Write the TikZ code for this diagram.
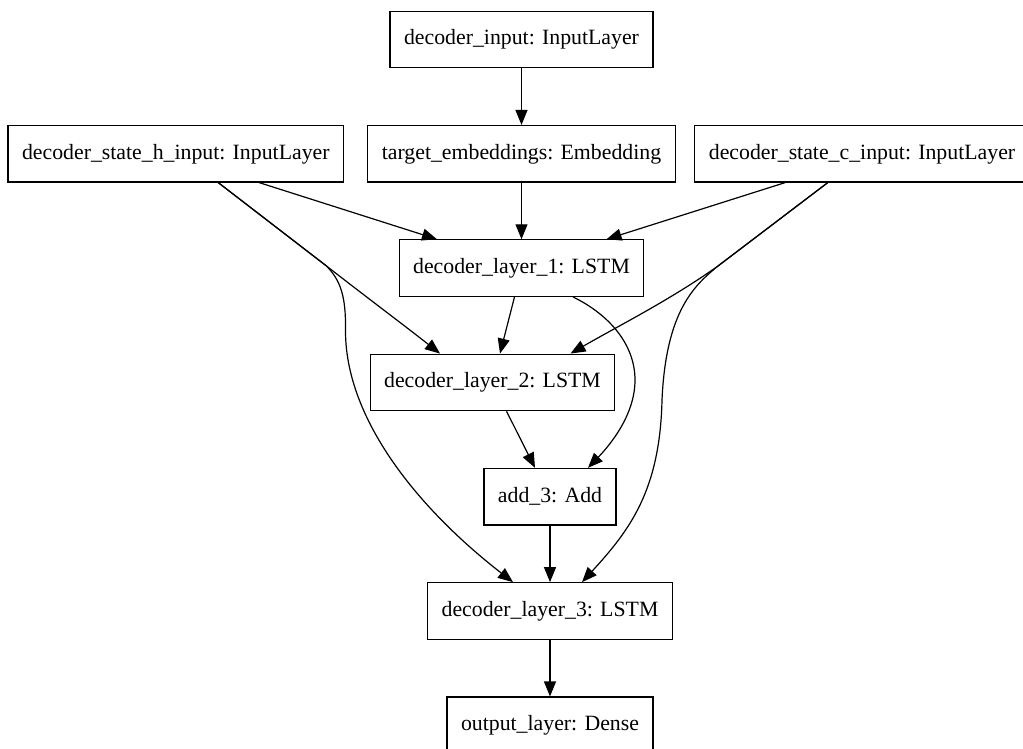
\documentclass[tikz,border=0pt]{standalone}
\usepackage{fontspec}
\setmainfont{Liberation Serif}
\usetikzlibrary{arrows.meta,positioning}

\begin{document}
\begin{tikzpicture}[x = 1pt, y = -1pt,
  lyr/.style={draw, line width=1.2pt, inner xsep=14pt, minimum height=56.5pt, font=\fontsize{21.8}{26}\selectfont},
  link/.style={line width=1.2pt, -{Triangle[length=15pt,width=12pt]}}]
\useasboundingbox (0,0) rectangle (1023,749);
% Inputs
\node[lyr] (din) at (521.5,39.5) {decoder\_input: InputLayer};
\node[lyr] (hin) at (175.8,153.8) {decoder\_state\_h\_input: InputLayer};
\node[lyr] (temb) at (521.5,153.8) {target\_embeddings: Embedding};
\node[lyr] (cin) at (862,153.8) {decoder\_state\_c\_input: InputLayer};
% LSTM stack
\node[lyr] (l1) at (521.5,268.1) {decoder\_layer\_1: LSTM};
\node[lyr] (l2) at (492.5,382.4) {decoder\_layer\_2: LSTM};
\node[lyr] (add) at (550,496.7) {add\_3: Add};
\node[lyr] (l3) at (550,611) {decoder\_layer\_3: LSTM};
\node[lyr] (out) at (550,725.3) {output\_layer: Dense};
% Edges into layer 1
\draw[link] (din) -- (temb);
\draw[link] (temb) -- (l1);
\draw[link] ([xshift=83.5pt]hin.south) -- ([xshift=-84.5pt]l1.north);
\draw[link] ([xshift=-77pt]cin.south) -- ([xshift=85pt]l1.north);
% States into layer 2 and layer 3
\draw[link] ([xshift=42.5pt]hin.south) -- (326.5,266) .. controls (365,296) and (405,326) .. ([xshift=-52.5pt]l2.north);
\draw[link] ([xshift=42.5pt]hin.south) -- (326.5,266) .. controls (340,280) and (346,295) .. (345.5,330) .. controls (345,420) and (420,510) .. ([xshift=-37pt]l3.north);
\draw[link] ([xshift=-34.3pt]cin.south) -- (718,266) .. controls (670,300) and (620,325) .. ([xshift=78pt]l2.north);
\draw[link] ([xshift=-34.3pt]cin.south) -- (718,266) .. controls (695,285) and (666,310) .. (662,400) .. controls (660,490) and (630,530) .. ([xshift=32pt]l3.north);
% Residual add
\draw[link] ([xshift=-7pt]l1.south) -- ([xshift=7.5pt]l2.north);
\draw[link] ([xshift=51.5pt]l1.south) .. controls (610,315) and (635,345) .. (635,380) .. controls (635,415) and (610,445) .. ([xshift=38pt]add.north);
\draw[link] ([xshift=14pt]l2.south) -- ([xshift=-15pt]add.north);
\draw[link] (add) -- (l3);
\draw[link] (l3) -- (out);
\end{tikzpicture}
\end{document}
